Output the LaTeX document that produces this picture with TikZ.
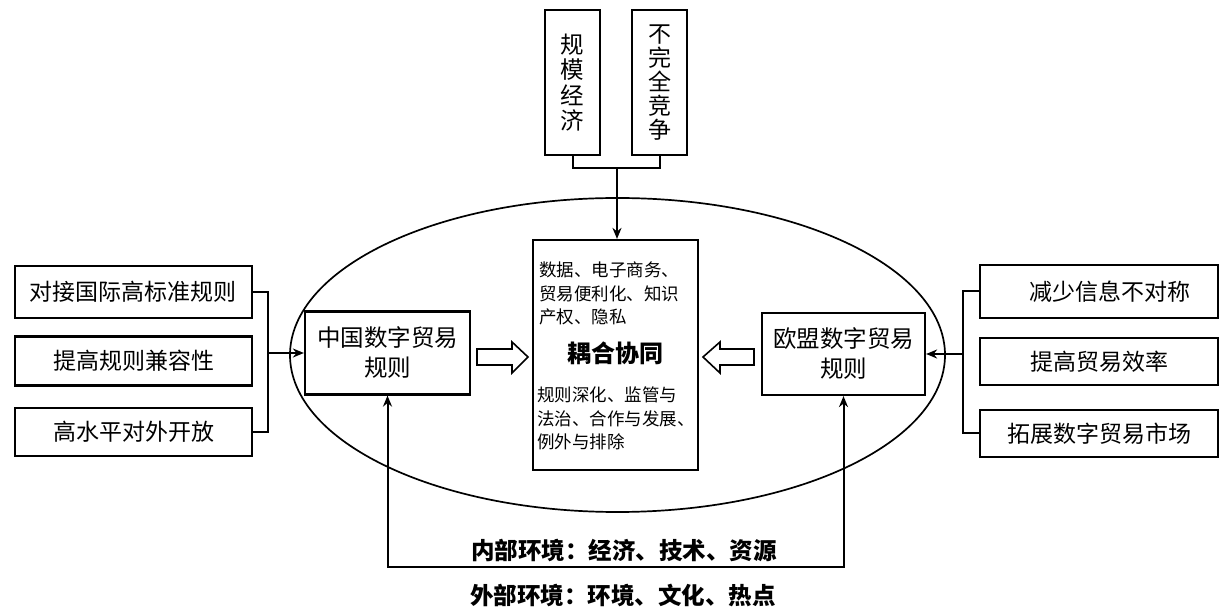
\documentclass[tikz,border=0pt]{standalone}
\usepackage{fontspec}
\setmainfont{Noto Sans CJK SC}
\usetikzlibrary{arrows.meta,calc}
\tikzset{
  box/.style={draw, line width=2.2pt, fill=white, inner sep=0pt, align=center},
  sidebox/.style={box, minimum width=237pt, font=\fontsize{23}{26}\selectfont},
  rulebox/.style={box, minimum width=165pt, minimum height=83pt, font=\fontsize{23.5}{30}\selectfont},
  topbox/.style={box, minimum width=55pt, minimum height=145pt},
  conn/.style={line width=2pt},
  tip/.style={-{Stealth[length=11pt,width=9pt]}},
  smalltext/.style={inner sep=0pt, align=left, font=\fontsize{17.5}{23.5}\selectfont},
  boldtext/.style={inner sep=0pt, font=\bfseries\fontsize{23.5}{28}\selectfont},
  blockarrow/.style={draw, line width=1.6pt, fill=white}
}
\begin{document}
\begin{tikzpicture}[x=1pt,y=-1pt]
\useasboundingbox (0,0) rectangle (1227,609);
% ellipse
\draw[line width=1.7pt] (617.5,355) ellipse [x radius=327.5, y radius=157];
% top boxes
\node[topbox, font=\fontsize{23.5}{25.5}\selectfont] (t1) at (572.5,82.5) {规\\模\\经\\济};
\node[topbox, font=\fontsize{23}{24}\selectfont] (t2) at (659.5,82.5) {不\\完\\全\\竞\\争};
% central box
\node[box, minimum width=165pt, minimum height=230pt] (c) at (615.5,355) {};
\node[smalltext, anchor=west] (ct) at (539,293.5) {数据、电子商务、\\贸易便利化、知识\\产权、隐私};
\node[boldtext, font=\bfseries\fontsize{24}{28}\selectfont] (cm) at (615.5,353) {耦合协同};
\node[smalltext, anchor=west] (cb) at (537,418.5) {规则深化、监管与\\法治、合作与发展、\\例外与排除};
% rule boxes
\node[rulebox] (cn) at (387.5,353) {中国数字贸易\\规则};
\node[rulebox, minimum width=163pt, minimum height=82pt] (eu) at (843.5,354) {欧盟数字贸易\\规则};
% left boxes
\node[sidebox, minimum height=52pt] (l1) at (133.5,292) {对接国际高标准规则};
\node[sidebox, minimum height=49pt] (l2) at (133.5,361) {提高规则兼容性};
\node[sidebox, minimum height=48pt] (l3) at (133.5,432) {高水平对外开放};
% right boxes
\node[sidebox, minimum width=238pt, minimum height=53pt] (r1) at (1099,291.5) {\hspace{22pt}减少信息不对称};
\node[sidebox, minimum width=238pt, minimum height=47pt] (r2) at (1099,361.5) {提高贸易效率};
\node[sidebox, minimum width=238pt, minimum height=47pt] (r3) at (1099,433.5) {拓展数字贸易市场};
% top bracket
\coordinate (tb) at (617,168);
\draw[conn] (t1.south) -- (t1.south |- tb) -- (t2.south |- tb) -- (t2.south);
\draw[conn, tip] (tb) -- (tb |- c.north);
% left bracket
\coordinate (lb) at (268,0);
\draw[conn] (l1.east) -- (l1.east -| lb) -- (l3.east -| lb) -- (l3.east);
\draw[conn, tip] (lb |- cn.west) -- (cn.west);
% right bracket
\coordinate (rb) at (963,0);
\draw[conn] (r1.west) -- (r1.west -| rb) -- (r3.west -| rb) -- (r3.west);
\draw[conn, tip] (rb |- eu.east) -- (eu.east);
% bottom loop
\coordinate (bb) at (0,567);
\draw[conn, {Stealth[length=11pt,width=9pt]}-{Stealth[length=11pt,width=9pt]}] (cn.south) -- (cn.south |- bb) -- (eu.south |- bb) -- (eu.south);
\node[boldtext] (inner) at (624,550) {内部环境：经济、技术、资源};
\node[boldtext] (outer) at (623,595) {外部环境：环境、文化、热点};
% block arrows
\draw[blockarrow] (477,349) -- (512,349) -- (512,342) -- (528,357) -- (512,373) -- (512,365) -- (477,365) -- cycle;
\draw[blockarrow] (754,349) -- (720,349) -- (720,342) -- (703,357) -- (720,373) -- (720,365) -- (754,365) -- cycle;
\end{tikzpicture}
\end{document}
